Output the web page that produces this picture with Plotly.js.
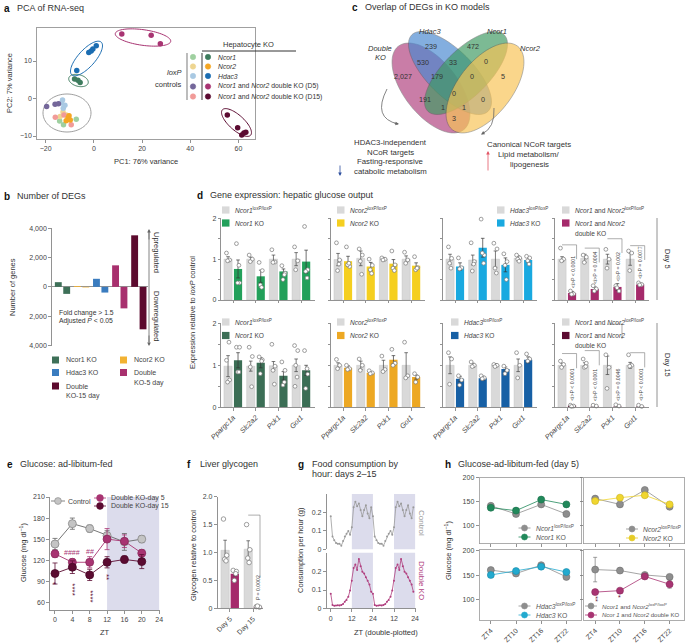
<!DOCTYPE html>
<html><head><meta charset="utf-8">
<script src="https://cdn.plot.ly/plotly-3.0.1.min.js"></script>
<style>html,body{margin:0;padding:0;background:#fff}#plot{width:685px;height:644px}</style>
</head><body><div id="plot"></div>
<script>
const W=685,H=644;
const FONT='Liberation Sans, Arial, sans-serif';

// ================= DATA =================
// a: PCA
const pcaLabels=['Ncor1','Ncor2','Hdac3','Ncor1 and Ncor2 double KO (D5)','Ncor1 and Ncor2 double KO (D15)'];
const pcaCtrlX=[[-12.6,-7.3,-14.2],[-14.0,-11.5,-12.8],[-13.4,-12.7,-13.0,-12.0],[-19.6,-16.1,-14.7],[-16.0,-9.4,-12.4]];
const pcaCtrlY=[[-7.0,-5.5,-6.0],[-4.8,-4.4,-3.6],[-1.2,-2.6,-0.4,-1.8],[-2.1,-1.5,-1.4],[-5.0,-7.0,-4.4]];
const pcaKoX=[[-8.0,-6.6,-5.7],[-10.7,-10.3,-11.5,-9.8],[-7.1,-2.1,-1.1,-0.4,1.0],[11.6,23.8,27.6],[55.4,59.7,61.4,62.3,63.1]];
const pcaKoY=[[5.2,4.9,4.3],[-5.2,-4.6,-5.9,-5.7],[7.5,12.3,12.7,13.2,14.1],[17.2,16.9,14.6],[-4.4,-7.8,-9.7,-9.2,-9.0]];

// b: number of DEGs
const degGroups=['Ncor1 KO','Ncor2 KO','Hdac3 KO','Double KO-5 day','Double KO-15 day'];
const degUp=[320,60,550,1470,3520];
const degDown=[-480,-40,-390,-1470,-2900];

// c: Venn counts
const vennCounts=['239','472','530','33','0','2,027','179','0','5','0','191','0','1','1','3'];

// d: gene expression
const dGenes=['Ppargc1a','Slc2a2','Pck1','Got1'];
// day 5
const d5Ncor1Ctrl=[1.0,1.0,1.0,1.0], d5Ncor1CtrlErr=[0.06,0.05,0.1,0.16];
const d5Ncor1Ko=[0.76,0.58,0.70,0.94], d5Ncor1KoErr=[0.22,0.15,0.06,0.28];
const d5Ncor1CtrlPts=[[1.15,0.98,0.96],[1.1,1.0,0.94],[1.23,0.93,0.92],[1.3,0.96,0.74]];
const d5Ncor1KoPts=[[1.38,0.42,0.42,0.85],[0.92,0.72,0.37,0.31],[0.84,0.66,0.5,0.62],[1.8,0.74,0.7,0.54]];
const d5Ncor2Ctrl=[0.99,1.02,1.0,1.0], d5Ncor2CtrlErr=[0.15,0.18,0.04,0.08];
const d5Ncor2Ko=[0.95,0.82,0.89,0.84], d5Ncor2KoErr=[0.12,0.1,0.1,0.07];
const d5Ncor2CtrlPts=[[1.4,0.98,0.72,0.88],[1.25,1.1,0.95,0.63],[1.03,1.0,0.98],[1.17,0.98,0.9]];
const d5Ncor2KoPts=[[1.3,0.82,0.86,0.9],[1.0,0.85,0.74,0.65],[1.2,0.86,0.78,0.72],[1.06,0.79,0.74,0.78]];
const d5Hdac3Ctrl=[1.0,0.98,1.0,1.02], d5Hdac3CtrlErr=[0.12,0.12,0.2,0.06];
const d5Hdac3Ko=[0.82,1.28,0.86,0.98], d5Hdac3KoErr=[0.09,0.23,0.17,0.06];
const d5Hdac3CtrlPts=[[1.3,1.02,0.9,0.78],[1.4,0.94,0.71,0.88],[1.39,1.25,0.78,0.66],[1.1,1.03,1.0,0.95]];
const d5Hdac3KoPts=[[1.03,0.79,0.76],[1.98,1.1,1.15,0.9],[1.13,0.94,0.85,0.5],[1.07,1.03,0.96,0.88]];
const d5DoubleCtrl=[1.0,1.02,1.0,1.0], d5DoubleCtrlErr=[0.06,0.1,0.12,0.15];
const d5DoubleKo=[0.17,0.27,0.32,0.38], d5DoubleKoErr=[0.04,0.05,0.08,0.03];
const d5DoubleCtrlPts=[[1.27,1.0,0.96],[1.1,1.05,0.92],[1.24,1.0,0.78],[1.2,1.15,0.72]];
const d5DoubleKoPts=[[0.22,0.15,0.14],[0.35,0.27,0.22],[0.35,0.22,0.3],[0.42,0.38,0.37]];
const d5DoubleP=['P < 0.0001','P = 0.0004','P = 0.002','P = 0.0077'];
// day 15
const d15Ncor1Ctrl=[0.98,0.98,0.99,1.0], d15Ncor1CtrlErr=[0.25,0.12,0.1,0.15];
const d15Ncor1Ko=[1.12,1.06,0.75,0.88], d15Ncor1KoErr=[0.18,0.12,0.1,0.12];
const d15Ncor1CtrlPts=[[1.12,0.65,0.6,1.55],[1.43,1.21,0.96,0.49],[1.5,0.98,0.88,0.55],[1.47,1.35,1.0,0.72,0.5]];
const d15Ncor1KoPts=[[1.43,1.43,0.84,0.84],[1.2,1.13,0.8,1.1],[1.08,0.88,0.53,0.6],[1.35,0.79,0.45,0.92]];
const d15Ncor2Ctrl=[1.0,1.0,1.0,1.0], d15Ncor2CtrlErr=[0.06,0.1,0.12,0.3];
const d15Ncor2Ko=[0.94,0.82,1.13,0.72], d15Ncor2KoErr=[0.05,0.03,0.1,0.05];
const d15Ncor2CtrlPts=[[1.14,1.0,0.92],[1.15,1.0,0.88],[1.22,0.9,0.85],[1.55,0.75,0.7]];
const d15Ncor2KoPts=[[1.0,0.92,0.9],[0.87,0.82,0.8],[1.38,1.05,1.0],[0.8,0.72,0.6]];
const d15Hdac3Ctrl=[1.0,1.0,1.0,1.0], d15Hdac3CtrlErr=[0.2,0.05,0.04,0.15];
const d15Hdac3Ko=[0.68,0.69,0.91,1.13], d15Hdac3KoErr=[0.06,0.05,0.05,0.07];
const d15Hdac3CtrlPts=[[1.3,1.15,0.55],[1.08,1.0,0.97],[1.02,1.0,0.97],[1.3,1.0,0.7]];
const d15Hdac3KoPts=[[0.75,0.65,0.53],[0.75,0.7,0.68],[0.98,0.88,0.8],[1.27,1.15,1.1]];
const d15DoubleCtrl=[1.0,1.0,1.0,1.0], d15DoubleCtrlErr=[0.05,0.06,0.22,0.07];
const d15DoubleKo=[0.04,0.02,0.02,0.02], d15DoubleKoErr=[0.01,0.01,0.01,0.01];
const d15DoubleCtrlPts=[[1.1,1.02,0.95],[1.15,1.05,0.95,0.97],[1.25,0.95,0.45],[1.25,1.0,0.98]];
const d15DoubleKoPts=[[0.05,0.03,0.02],[0.05,0.03],[0.06,0.03],[0.05,0.02]];
const d15DoubleP=['P < 0.0001','P < 0.0001','P = 0.0046','P < 0.0001'];

// e: glucose ad libitum
const eZT=[0,4,8,12,16,20];
const eCtrl=[143,172,165,155,146,150], eCtrlErr=[8,8,5,7,12,5];
const eD5=[129,117,117,150,147,130], eD5Err=[5,5,8,15,9,5];
const eD15=[101,110,99,117,121,118], eD15Err=[15,9,8,8,5,10];

// f: liver glycogen
const fDays=['Day 5','Day 15'];
const fCtrl=[1.04,1.06], fCtrlErr=[0.18,0.15];
const fKo=[0.62,0.03], fKoErr=[0.04,0.01];
const fCtrlPts=[[1.6,0.95,0.88,0.85],[1.5,1.05,0.9,0.82]];
const fKoPts=[[0.68,0.66,0.5,0.62],[0.03,0.02,0.04]];

// g: food consumption (hourly, ZT0..ZT23)
const gZT=[0,1,2,3,4,5,6,7,8,9,10,11,12,13,14,15,16,17,18,19,20,21,22,23];
const gCtrl=[0.18,0.07,0.05,0.035,0.03,0.03,0.02,0.045,0.07,0.085,0.1,0.08,0.12,0.23,0.26,0.235,0.25,0.215,0.18,0.215,0.24,0.195,0.17,0.23];
const gDouble=[0.08,0.018,0.014,0.015,0.016,0.015,0.018,0.023,0.036,0.045,0.063,0.098,0.15,0.22,0.24,0.21,0.27,0.23,0.2,0.19,0.17,0.15,0.13,0.09];

// h: glucose day 5
const hZT=['ZT4','ZT10','ZT16','ZT22'];
const hNcor1Flox=[141,124,144,124], hNcor1Ko=[137,131,154,144];
const hNcor2Flox=[156,144,174,139], hNcor2Ko=[151,158,163,144];
const hHdac3Flox=[161,154,171,147], hHdac3Ko=[151,159,168,157];
const hDoubleFlox=[162,160,151,147], hDoubleFloxErr=[25,5,4,5];
const hDoubleKo=[116,119,148,132], hDoubleKoErr=[3,3,4,8];

// ================= LAYOUT HELPERS =================
const traces=[];
const layout={width:W,height:H,margin:{l:0,r:0,t:0,b:0},paper_bgcolor:'#fff',plot_bgcolor:'rgba(0,0,0,0)',
  showlegend:false,barmode:'overlay',font:{family:FONT,size:7,color:'#333'},annotations:[],shapes:[]};
const A=layout.annotations,S=layout.shapes;
const px=x=>x/W, py=y=>1-y/H;
const dx=(a,b)=>[a/W,b/W], dy=(t,b)=>[1-b/H,1-t/H];
const base={showgrid:false,zeroline:false,showline:true,linecolor:'#777',linewidth:0.8,ticks:'outside',ticklen:3,
  tickwidth:0.8,tickcolor:'#777',tickfont:{family:FONT,size:7,color:'#444'},fixedrange:true};
function ax(n,xd,yd,xo,yo){
  const xs=n===1?'xaxis':'xaxis'+n, ys=n===1?'yaxis':'yaxis'+n;
  layout[xs]=Object.assign({},base,{domain:xd,anchor:n===1?'y':'y'+n},xo);
  layout[ys]=Object.assign({},base,{domain:yd,anchor:n===1?'x':'x'+n},yo);
}
const xr=n=>n===1?'x':'x'+n, yr=n=>n===1?'y':'y'+n;
function T(x,y,text,size,o){o=o||{};A.push({xref:'paper',yref:'paper',x:px(x),y:py(y),text:text,showarrow:false,
  xanchor:o.xa||'left',yanchor:o.ya||'middle',textangle:o.rot||0,font:{family:FONT,size:size||7.5,color:o.color||'#333'}});}
function TD(n,x,y,text,size,o){o=o||{};A.push({xref:xr(n),yref:yr(n),x:x,y:y,text:text,showarrow:false,
  xanchor:o.xa||'center',yanchor:o.ya||'middle',textangle:o.rot||0,font:{family:FONT,size:size||7,color:o.color||'#333'}});}
function Ln(x0,y0,x1,y1,c,w){S.push({type:'line',xref:'paper',yref:'paper',x0:px(x0),y0:py(y0),x1:px(x1),y1:py(y1),line:{color:c||'#555',width:w||0.8}});}
function Rc(x0,y0,x1,y1,f){S.push({type:'rect',xref:'paper',yref:'paper',x0:px(x0),y0:py(y0),x1:px(x1),y1:py(y1),fillcolor:f,line:{width:0}});}
function Ci(cx,cy,r,f,lc){S.push({type:'circle',xref:'paper',yref:'paper',x0:px(cx-r),y0:py(cy+r),x1:px(cx+r),y1:py(cy-r),fillcolor:f,line:{color:lc||f,width:0.6}});}
function ell(cx,cy,a,b,deg){const t=deg*Math.PI/180;let s='';for(let i=0;i<=72;i++){const u=i/72*2*Math.PI;
  const x=cx+a*Math.cos(u)*Math.cos(t)-b*Math.sin(u)*Math.sin(t);const y=cy+a*Math.cos(u)*Math.sin(t)+b*Math.sin(u)*Math.cos(t);
  s+=(i?'L':'M')+px(x).toFixed(5)+','+py(y).toFixed(5);}return s+'Z';}
function Arrow(x,y,axp,ayp,c){A.push({xref:'paper',yref:'paper',x:px(x),y:py(y),ax:axp,ay:ayp,text:'',showarrow:true,
  arrowhead:2,arrowsize:0.9,arrowwidth:0.8,arrowcolor:c||'#555'});}
function title(x,y,letter,text){T(x,y,'<b>'+letter+'</b>',10,{color:'#111'});T(x+13,y,text,9,{color:'#333'});}

// ================= PANEL A =================
const ctrlCols=['#9fd0a0','#eed591','#a9c9e3','#74679a','#f19b98'];
const koCols=['#3e7c5e','#f5a623','#1b6db2','#a83472','#5b0b31'];
ax(1,dx(37,255),dy(28,139),{range:[-23.6,66.9],tickvals:[-20,0,20,40,60],mirror:true,linecolor:'#888'},
  {range:[-10.8,18.8],tickvals:[-10,0,10],mirror:true,linecolor:'#888'});
function pellipse(cx,cy,a,b,deg,c){S.push({type:'path',xref:'paper',yref:'paper',path:ell(cx,cy,a,b,deg),line:{color:c,width:1},fillcolor:'rgba(0,0,0,0)',layer:'below'});}
pellipse(67,113,24,19,0,'#a0a0a0');
pellipse(78.5,80.5,10,5.8,15,'#3e7c5e');
pellipse(86.5,58.5,22,8.5,-48,'#1b6db2');
pellipse(143,37.5,28,7.8,8,'#a83472');
pellipse(236.5,122.5,19,7.5,42,'#5b0b31');
for(let g=0;g<5;g++){
  traces.push({type:'scatter',mode:'markers',x:pcaCtrlX[g],y:pcaCtrlY[g],xaxis:'x',yaxis:'y',cliponaxis:false,
    marker:{size:5.5,color:ctrlCols[g]},name:'loxP '+pcaLabels[g]});
}
for(let g=0;g<5;g++){
  traces.push({type:'scatter',mode:'markers',x:pcaKoX[g],y:pcaKoY[g],xaxis:'x',yaxis:'y',cliponaxis:false,
    marker:{size:5.5,color:koCols[g]},name:'KO '+pcaLabels[g]});
}
title(2,8,'a','PCA of RNA-seq');
T(10,83,'PC2: 7% variance',7.5,{xa:'center',rot:-90});
T(146,162,'PC1: 76% variance',7.5,{xa:'center'});
T(248,44,'Hepatocyte KO',7.5,{xa:'center'});
Ln(202,51,296,51,'#333',1);
Ln(187,53,187,100,'#999',1.3);Ln(202,53,202,100,'#666',1.3);
T(184,72,'<i>loxP</i>',7.5,{xa:'right'});T(184,84,'controls',7.5,{xa:'right'});
const legY=[57,66.5,76,86.5,96.5];
const legTxt=['<i>Ncor1</i>','<i>Ncor2</i>','<i>Hdac3</i>','<i>Ncor1</i> and <i>Ncor2</i> double KO (D5)','<i>Ncor1</i> and <i>Ncor2</i> double KO (D15)'];
for(let g=0;g<5;g++){Ci(193,legY[g],2.7,ctrlCols[g]);Ci(208,legY[g],2.7,koCols[g]);T(216,legY[g],legTxt[g],6.8,{color:'#333'});}

// ================= PANEL B =================
const degCols=['#3e7058','#f2b233','#3a7cbf','#a8306e','#5c0a2e'];
ax(2,dx(52,148),dy(228,346),{range:[-0.55,4.48],showline:false,ticks:'',showticklabels:false},
  {range:[-4040,4020],tickvals:[-4000,-2000,0,2000,4000],ticktext:['4,000','2,000','0','2,000','4,000'],
   zeroline:true,zerolinecolor:'#777',zerolinewidth:0.8});
const gi=degGroups.map((_,i)=>i);
traces.push({type:'bar',x:gi.map(i=>i-0.22),y:degUp,width:0.36,xaxis:'x2',yaxis:'y2',marker:{color:degCols},name:'up'});
traces.push({type:'bar',x:gi.map(i=>i+0.22),y:degDown,width:0.36,xaxis:'x2',yaxis:'y2',marker:{color:degCols},name:'down'});
title(2,196,'b','Number of DEGs');
T(12,287,'Number of genes',7.5,{xa:'center',rot:-90});
T(57,313,'Fold change &gt; 1.5',6.8);T(57,321,'Adjusted <i>P</i> &lt; 0.05',6.8);
Ln(149,232,149,342,'#666',0.8);Arrow(149,229,0,12,'#666');Arrow(149,346,0,-12,'#666');
T(156,252,'Upregulated',7.5,{xa:'center',rot:90});T(156,316,'Downregulated',7.5,{xa:'center',rot:90});
const bLeg=[[52,360,0,['Ncor1 KO']],[52,372.5,2,['Hdac3 KO']],[52,386,4,['Double','KO-15 day']],[120,360,1,['Ncor2 KO']],[120,372.5,3,['Double','KO-5 day']]];
bLeg.forEach(l=>{Rc(l[0],l[1]-3.5,l[0]+7,l[1]+3.5,degCols[l[2]]);l[3].forEach((t,k)=>T(l[0]+12,l[1]+k*10,t,7,{color:'#444'}));});

// ================= PANEL C (Venn) =================
title(350,7,'c','Overlap of DEGs in KO models');
function vell(cx,cy,a,b,deg,f){S.push({type:'path',xref:'paper',yref:'paper',path:ell(cx,cy,a,b,deg),line:{color:'#555',width:0.6},fillcolor:f,opacity:0.68});}
vell(431,88,53,27,52,'#b0407e');
vell(450,73,54,23,45,'#4a88d0');
vell(466,73,54,23,-45,'#3f9a62');
vell(485,88,53,27,-52,'#f8c455');
const vennPos=[[431,47],[473,47],[423,62],[453,62],[486,61],[403,77],[437,77],[472,76],[503,76],[454,93],[425,100],[483,100],[443,108],[464,108],[454,119]];
vennCounts.forEach((c,i)=>T(vennPos[i][0],vennPos[i][1],c,7.2,{xa:'center',color:'#333'}));
T(380,48,'<i>Double</i>',7.5,{xa:'center'});T(380,57,'<i>KO</i>',7.5,{xa:'center'});
T(430,31,'<i>Hdac3</i>',7.5,{xa:'center'});T(497,31,'<i>Ncor1</i>',7.5,{xa:'center'});T(530,48,'<i>Ncor2</i>',7.5,{xa:'center'});
S.push({type:'path',xref:'paper',yref:'paper',path:'M'+px(387)+','+py(89)+' Q'+px(372)+','+py(118)+' '+px(398)+','+py(124),line:{color:'#666',width:0.8}});
Arrow(399,124,-6,-1,'#666');
S.push({type:'path',xref:'paper',yref:'paper',path:'M'+px(494)+','+py(108)+' Q'+px(495)+','+py(128)+' '+px(482)+','+py(134),line:{color:'#666',width:0.8}});
Arrow(481,134.5,5,-3,'#666');
['HDAC3-independent','NCoR targets','Fasting-responsive','catabolic metabolism'].forEach((t,k)=>T(390,142+k*10,t,7.8,{xa:'center'}));
Arrow(340,176,0,-12,'#2d4f9e');
['Canonical NCoR targets','Lipid metabolism/','lipogenesis'].forEach((t,k)=>T(529,145+k*9.7,t,7.8,{xa:'center'}));
Arrow(488,151,0,21,'#e25565');

// ================= PANEL D =================
title(195,195,'d','Gene expression: hepatic glucose output');
const dCols=[['#22a05a','#f5cf1f','#19a9e0','#a52a6b'],['#3b6e55','#eda823','#1760a5','#5c0b31']];
const dNames=[['Ncor1','Ncor2','Hdac3','Ncor1 and Ncor2'],['Ncor1','Ncor2','Hdac3','Ncor1 and Ncor2']];
const dData=[
 [[d5Ncor1Ctrl,d5Ncor1CtrlErr,d5Ncor1Ko,d5Ncor1KoErr,d5Ncor1CtrlPts,d5Ncor1KoPts],
  [d5Ncor2Ctrl,d5Ncor2CtrlErr,d5Ncor2Ko,d5Ncor2KoErr,d5Ncor2CtrlPts,d5Ncor2KoPts],
  [d5Hdac3Ctrl,d5Hdac3CtrlErr,d5Hdac3Ko,d5Hdac3KoErr,d5Hdac3CtrlPts,d5Hdac3KoPts],
  [d5DoubleCtrl,d5DoubleCtrlErr,d5DoubleKo,d5DoubleKoErr,d5DoubleCtrlPts,d5DoubleKoPts]],
 [[d15Ncor1Ctrl,d15Ncor1CtrlErr,d15Ncor1Ko,d15Ncor1KoErr,d15Ncor1CtrlPts,d15Ncor1KoPts],
  [d15Ncor2Ctrl,d15Ncor2CtrlErr,d15Ncor2Ko,d15Ncor2KoErr,d15Ncor2CtrlPts,d15Ncor2KoPts],
  [d15Hdac3Ctrl,d15Hdac3CtrlErr,d15Hdac3Ko,d15Hdac3KoErr,d15Hdac3CtrlPts,d15Hdac3KoPts],
  [d15DoubleCtrl,d15DoubleCtrlErr,d15DoubleKo,d15DoubleKoErr,d15DoubleCtrlPts,d15DoubleKoPts]]];
const dColX=[221,331,443,555], dRowY=[[218.3,300],[323.3,407.3]];
const jit=[-0.07,0.07,-0.02,0.04,-0.05];
const legX=[[222,337,497,562],[222,337,451,562]];
const legRowY=[[210,223],[322,335.5]];
const pBr=[[1.35,1.27,1.5,1.33],[1.28,1.35,1.98,1.3]];
for(let r=0;r<2;r++){for(let c=0;c<4;c++){
  const n=3+r*4+c; const xa=xr(n), ya=yr(n); const D=dData[r][c];
  ax(n,dx(dColX[c],dColX[c]+94),dy(dRowY[r][0],dRowY[r][1]),
   {range:[-0.53,3.61],tickvals:[0,1,2,3],ticktext:dGenes.map(g=>'<i>'+g+'</i>'),showticklabels:r===1,tickangle:-45,ticklen:2.5,tickfont:{family:FONT,size:7.2,color:'#444'}},
   c===0?{range:[0,2],tickvals:[0,0.5,1,1.5,2],ticktext:['0','','1','','2'],ticklen:2.5}
        :{range:[0,2],tickvals:[0,0.5,1,1.5,2],showticklabels:false,ticklen:2.5});
  const xs=[0,1,2,3];
  traces.push({type:'bar',x:xs.map(i=>i-0.22),y:D[0],width:0.36,xaxis:xa,yaxis:ya,marker:{color:'#d9d9d9',line:{color:'#bdbdbd',width:0.4}},
    error_y:{type:'data',array:D[1],color:'#444',thickness:0.7,width:1.8}});
  traces.push({type:'bar',x:xs.map(i=>i+0.22),y:D[2],width:0.36,xaxis:xa,yaxis:ya,marker:{color:dCols[r][c]},
    error_y:{type:'data',array:D[3],color:'#333',thickness:0.7,width:1.8}});
  const cx=[],cy=[],kx=[],ky=[];
  D[4].forEach((pts,i)=>pts.forEach((v,k)=>{cx.push(i-0.22+jit[k]);cy.push(v);}));
  D[5].forEach((pts,i)=>pts.forEach((v,k)=>{kx.push(i+0.22+jit[k]);ky.push(v);}));
  traces.push({type:'scatter',mode:'markers',x:cx,y:cy,xaxis:xa,yaxis:ya,cliponaxis:false,marker:{size:3.8,color:'#fff',line:{color:'#777',width:0.7}}});
  traces.push({type:'scatter',mode:'markers',x:kx,y:ky,xaxis:xa,yaxis:ya,cliponaxis:false,marker:{size:3.8,color:'#fff',line:{color:'#777',width:0.7}}});
  const lx=legX[r][c];
  Rc(lx,legRowY[r][0]-3.6,lx+7.5,legRowY[r][0]+3.6,'#d9d9d9');
  Rc(lx,legRowY[r][1]-3.6,lx+7.5,legRowY[r][1]+3.6,dCols[r][c]);
  const nm=dNames[r][c];
  if(c<3){
    T(lx+11,legRowY[r][0],'<i>'+nm+'</i><sup>loxP/loxP</sup>',6.6,{color:'#444'});
    T(lx+11,legRowY[r][1],'<i>'+nm+'</i> KO',6.6,{color:'#444'});
  } else {
    T(lx+11,legRowY[r][0],'<i>Ncor1</i> and <i>Ncor2</i><sup>loxP/loxP</sup>',6.6,{color:'#444'});
    T(lx+11,legRowY[r][1],'<i>Ncor1</i> and <i>Ncor2</i>',6.6,{color:'#444'});
    T(lx+11,legRowY[r][1]+10,'double KO',6.6,{color:'#444'});
    const P=r===0?d5DoubleP:d15DoubleP; const Ko=r===0?d5DoubleKo:d15DoubleKo;
    for(let i=0;i<4;i++){
      const h=pBr[r][i];
      S.push({type:'path',xref:xa,yref:ya,path:'M'+(i-0.22)+','+h+' L'+(i+0.42)+','+h+' L'+(i+0.42)+','+(h-0.35),line:{color:'#777',width:0.6}});
      TD(n,i+0.24,Ko[i]+0.08,P[i].replace('P','<i>P</i>').replace('<','&lt;'),5.2,{rot:-90,ya:'bottom',color:'#444'});
    }
  }
}}
T(192,313,'Expression relative to <i>loxP</i> control',7.5,{xa:'center',rot:-90});
Ln(657,218,657,300,'#777',0.8);Ln(657,323,657,407,'#777',0.8);
T(668,259,'Day 5',7.5,{xa:'center',rot:90});T(668,365,'Day 15',7.5,{xa:'center',rot:90});

// ================= PANEL E =================
title(5,464,'e','Glucose: ad-libitum-fed');
ax(11,dx(50,160),dy(497,610),{range:[-1.15,24.2],tickvals:[0,4,8,12,16,20,24]},
  {range:[49,210],tickvals:[60,90,120,150,180,210]});
S.push({type:'rect',xref:'x11',yref:'y11 domain',x0:12,x1:24,y0:0,y1:1,fillcolor:'#dcdcec',line:{width:0},layer:'below'});
function eTr(y,err,lc,mc,ml){traces.push({type:'scatter',mode:'lines+markers',x:eZT,y:y,xaxis:'x11',yaxis:'y11',cliponaxis:false,
  line:{color:lc,width:0.9},marker:{size:8,color:mc,line:{color:ml,width:0.8}},error_y:{type:'data',array:err,color:lc,thickness:0.8,width:2.5}});}
eTr(eCtrl,eCtrlErr,'#666','#c4c4c4','#888');
eTr(eD5,eD5Err,'#a83472','#a83472','#8a2a5c');
eTr(eD15,eD15Err,'#5b0b31','#5b0b31','#4a0828');
T(23,553,'Glucose (mg dl<sup>−1</sup>)',7.5,{xa:'center',rot:-90});
T(105,632,'ZT',7.5,{xa:'center'});
TD(11,4,131,'####',7,{color:'#a83472'});TD(11,8,133,'##',7,{color:'#a83472'});
TD(11,0,86,'*',8,{color:'#5b0b31'});
TD(11,4,78,'****',8,{rot:90,color:'#5b0b31'});TD(11,8,69,'****',8,{rot:90,color:'#5b0b31'});
TD(11,12,96,'**',8,{rot:90,color:'#5b0b31'});
Ln(51,501,65,501,'#666',0.8);Ci(58,501,3.4,'#c4c4c4','#888');T(66,501,'Control',7,{color:'#444'});
Ln(94,498,106,498,'#a83472',0.8);Ci(100,498,3.4,'#a83472');T(109,498,'Double KO-day 5',7,{color:'#444'});
Ln(94,506,106,506,'#5b0b31',0.8);Ci(100,506,3.4,'#5b0b31');T(109,506,'Double KO-day 15',7,{color:'#444'});

// ================= PANEL F =================
title(185,464,'f','Liver glycogen');
ax(12,dx(217.7,263),dy(496.7,608.3),{range:[-0.53,1.43],tickvals:[0,1],ticktext:fDays,tickangle:-45,tickfont:{family:FONT,size:7,color:'#444'}},
  {range:[0,2],tickvals:[0,0.5,1,1.5,2],ticktext:['0','0.5','1.0','1.5','2.0']});
const fx=[0,1];
traces.push({type:'bar',x:fx.map(i=>i-0.21),y:fCtrl,width:0.36,xaxis:'x12',yaxis:'y12',marker:{color:'#d9d9d9',line:{color:'#bdbdbd',width:0.4}},
  error_y:{type:'data',array:fCtrlErr,color:'#444',thickness:0.7,width:1.8}});
traces.push({type:'bar',x:fx.map(i=>i+0.21),y:fKo,width:0.36,xaxis:'x12',yaxis:'y12',marker:{color:['#a52a6b','#5c0b31']},
  error_y:{type:'data',array:fKoErr,color:'#444',thickness:0.7,width:1.8}});
{const cx=[],cy=[],kx=[],ky=[];
 fCtrlPts.forEach((p,i)=>p.forEach((v,k)=>{cx.push(i-0.21+jit[k]);cy.push(v);}));
 fKoPts.forEach((p,i)=>p.forEach((v,k)=>{kx.push(i+0.21+jit[k]);ky.push(v);}));
 traces.push({type:'scatter',mode:'markers',x:cx,y:cy,xaxis:'x12',yaxis:'y12',cliponaxis:false,marker:{size:4.5,color:'#fff',line:{color:'#777',width:0.7}}});
 traces.push({type:'scatter',mode:'markers',x:kx,y:ky,xaxis:'x12',yaxis:'y12',cliponaxis:false,marker:{size:4.5,color:'#fff',line:{color:'#777',width:0.7}}});}
S.push({type:'path',xref:'x12',yref:'y12',path:'M0.79,1.67 L1.3,1.67 L1.3,0.55',line:{color:'#777',width:0.6}});
TD(12,1.22,0.1,'<i>P</i> = 0.0002',5.2,{rot:-90,ya:'bottom',color:'#444'});
T(193,556,'Glycogen relative to control',7.5,{xa:'center',rot:-90});

// ================= PANEL G =================
T(296,464,'<b>g</b>',10,{color:'#111'});T(310,464,'Food consumption by',9);T(310,474,'hour: days 2–15',9);
ax(13,dx(326.7,416),dy(494,549.3),{range:[-2.3,48.5],showline:false,ticks:'',showticklabels:false},
  {range:[0,0.302],tickvals:[0,0.1,0.2]});
ax(14,dx(326.7,416),dy(552.7,608.3),{range:[-2.3,48.5],tickvals:[0,12,24,36,48],ticktext:['0','12','24','12','24']},
  {range:[0,0.304],tickvals:[0,0.1,0.2]});
[13,14].forEach(n=>{[[12,24],[36,48]].forEach(s=>S.push({type:'rect',xref:'x'+n,yref:'y'+n+' domain',x0:s[0],x1:s[1],y0:0,y1:1,fillcolor:'#dcdcec',line:{width:0},layer:'below'}));});
const g2x=gZT.concat(gZT.map(v=>v+24));
traces.push({type:'scatter',mode:'lines+markers',x:g2x,y:gCtrl.concat(gCtrl),xaxis:'x13',yaxis:'y13',line:{color:'#9a9a9a',width:0.8},marker:{size:2,color:'#9a9a9a'}});
traces.push({type:'scatter',mode:'lines+markers',x:g2x,y:gDouble.concat(gDouble),xaxis:'x14',yaxis:'y14',line:{color:'#b03e7e',width:0.8},marker:{size:2,color:'#b03e7e'}});
T(422,523,'Control',8,{xa:'center',rot:90,color:'#9a9a9a'});
T(422,580,'Double KO',8,{xa:'center',rot:90,color:'#b03e7e'});
T(300,550,'Consumption per hour (g)',7.5,{xa:'center',rot:-90});
T(386,632,'ZT (double-plotted)',7.5,{xa:'center'});

// ================= PANEL H =================
title(443,464,'h','Glucose-ad-libitum-fed (day 5)');
const hBoxes=[[15,479.5,581.5,477.5,543.5,[62.5,200]],[16,584,684.5,477.5,543.5,[62.5,200]],[17,479.5,581.5,550,620,[59,202]],[18,584,684.5,550,620,[59,202]]];
hBoxes.forEach((b,i)=>{
  ax(b[0],dx(b[1],b[2]),dy(b[3],b[4]),{range:[-0.45,3.6],tickvals:[0,1,2,3],ticktext:hZT,showticklabels:i>=2,tickangle:-45,mirror:true,linecolor:'#999',tickfont:{family:FONT,size:7,color:'#444'}},
    {range:b[5],tickvals:[100,150,200],showticklabels:i%2===0,mirror:true,linecolor:'#999'});
});
const hx=[0,1,2,3];
function hTr(n,y,err,c,ml){const t={type:'scatter',mode:'lines+markers',x:hx,y:y,xaxis:'x'+n,yaxis:'y'+n,cliponaxis:false,
  line:{color:c,width:0.8},marker:{size:7,color:c,line:{color:ml,width:0.6}}};
  if(err)t.error_y={type:'data',array:err,color:'#777',thickness:0.7,width:2};traces.push(t);}
const fl='#8e8e8e', flL='#6e6e6e';
hTr(15,hNcor1Flox,null,fl,flL);hTr(15,hNcor1Ko,null,'#21895b','#1a6e49');
hTr(16,hNcor2Flox,null,fl,flL);hTr(16,hNcor2Ko,null,'#f0d630','#c8b020');
hTr(17,hHdac3Flox,null,fl,flL);hTr(17,hHdac3Ko,null,'#22aacf','#1a8aa8');
hTr(18,hDoubleFlox,hDoubleFloxErr,fl,flL);hTr(18,hDoubleKo,hDoubleKoErr,'#a83472','#8a2a5c');
TD(18,0,101,'**',7,{rot:90,color:'#5b0b31'});TD(18,1,104,'*',7,{color:'#5b0b31'});
function hLeg(x,y,c,text,fs){Ln(x-6,y,x+6,y,c,0.8);Ci(x,y,3,c);T(x+9,y,text,fs||6.8,{color:'#555'});}
hLeg(524.5,528,fl,'<i>Ncor1</i><sup>loxP/loxP</sup>');hLeg(524.5,537,'#21895b','<i>Ncor1</i> KO');
hLeg(632,529,fl,'<i>Ncor2</i><sup>loxP/loxP</sup>');hLeg(632,538,'#e6cc28','<i>Ncor2</i> KO');
hLeg(524.5,606,fl,'<i>Hdac3</i><sup>loxP/loxP</sup>');hLeg(524.5,615,'#22aacf','<i>Hdac3</i> KO');
hLeg(591,606,fl,'<i>Ncor1</i> and <i>Ncor2</i><sup>loxP/loxP</sup>',6.2);hLeg(591,615,'#a83472','<i>Ncor 1</i> and <i>Ncor2</i> double KO',6.0);
T(448,551,'Glucose (mg dl<sup>−1</sup>)',7.5,{xa:'center',rot:-90});

Plotly.newPlot('plot',traces,layout,{staticPlot:true,displayModeBar:false});
</script></body></html>
